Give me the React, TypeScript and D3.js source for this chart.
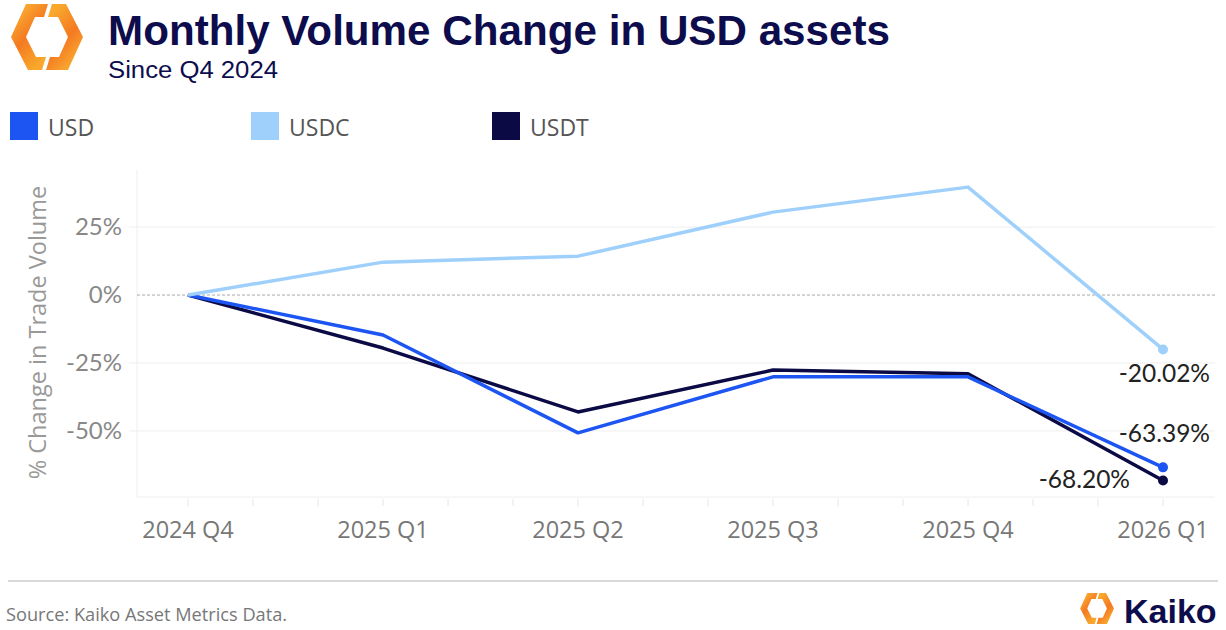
import React from 'react';
import * as d3 from 'd3';

const quarters = ['2024 Q4', '2025 Q1', '2025 Q2', '2025 Q3', '2025 Q4', '2026 Q1'];
const usd = [0, -14.7, -50.7, -30.1, -30.1, -63.39];
const usdc = [0, 12.1, 14.3, 30.5, 39.7, -20.02];
const usdt = [0, -19.5, -43.0, -27.6, -29.0, -68.2];
const yTicks = [25, 0, -25, -50];

const seriesNames = ['USD', 'USDC', 'USDT'];
const seriesColors: Record<string, string> = {
   USD: '#1c55f2',
   USDC: '#9fd0fb',
   USDT: '#0b0a45',
};

const W = 1226;
const H = 630;

const plot = { left: 137, right: 1215, top: 170, bottom: 497 };

// two rotated halves of the Kaiko hexagon mark
const Logo: React.FC<{ x: number; y: number; s: number; id: string }> = ({ x, y, s, id }) => {
   const piece = 'M48,4 L26,4 L11,37 L28,70 L42,70 L46,57 L36,57 L26,37 L35,17 L44,17 Z';
   return (
      <g transform={`translate(${x},${y}) scale(${s})`}>
         <defs>
            <linearGradient id={`${id}-g`} x1="0" y1="0" x2="0.6" y2="1">
               <stop offset="0%" stopColor="#fcc037" />
               <stop offset="55%" stopColor="#f47a22" />
               <stop offset="100%" stopColor="#f9a82c" />
            </linearGradient>
         </defs>
         <path d={piece} fill={`url(#${id}-g)`} />
         <path d={piece} fill={`url(#${id}-g)`} transform="rotate(180 47 37)" />
      </g>
   );
};

const App: React.FC = () => {
   const x = d3.scalePoint<string>().domain(quarters).range([188, 1163]);
   const y = d3.scaleLinear().domain([-74.3, 46]).range([plot.bottom, plot.top]);

   const step = x.step();
   const monthTicks: number[] = [];
   quarters.forEach((q, i) => {
      const px = x(q) as number;
      monthTicks.push(px);
      if (i < quarters.length - 1) {
         monthTicks.push(px + step / 3, px + (2 * step) / 3);
      }
   });

   const line = d3
      .line<number>()
      .x((_, i) => x(quarters[i]) as number)
      .y((d) => y(d));

   const data: Record<string, number[]> = { USD: usd, USDC: usdc, USDT: usdt };
   const drawOrder = ['USDT', 'USD', 'USDC'];
   const last = quarters.length - 1;
   const lastX = x(quarters[last]) as number;

   const endLabels = [
      { name: 'USDC', dx: 47, dy: 33 },
      { name: 'USD', dx: 47, dy: -25 },
      { name: 'USDT', dx: -33, dy: 8 },
   ];

   const uiFont = '"Open Sans", "Noto Sans", sans-serif';
   const numFont = 'Lato, "Open Sans", sans-serif';

   return (
      <svg width={W} height={H} style={{ position: 'absolute', left: 0, top: 0, background: '#fff' }}>
         <rect width={W} height={H} fill="#fff" />
         <Logo x={0} y={0} s={1} id="big" />
         <text x={108} y={45} fontFamily='"Liberation Sans", Arial, sans-serif' fontWeight={700}
            fontSize={42} fill="#0d0c4d" textLength={782} lengthAdjust="spacingAndGlyphs">
            Monthly Volume Change in USD assets
         </text>
         <text x={108} y={78} fontFamily='"Liberation Sans", Arial, sans-serif' fontSize={23} fill="#0d0c4d"
            textLength={170} lengthAdjust="spacingAndGlyphs">
            Since Q4 2024
         </text>

         {/* legend */}
         {seriesNames.map((name, i) => (
            <g key={name} transform={`translate(${10 + i * 241},112)`}>
               <rect width={28} height={28} fill={seriesColors[name]} />
               <text x={38} y={24} fontFamily={uiFont} fontSize={23} fill="#555">
                  {name}
               </text>
            </g>
         ))}

         {/* frame */}
         <line x1={plot.left} x2={plot.left} y1={plot.top} y2={plot.bottom} stroke="#eeeeee" />
         <line x1={plot.left} x2={plot.right} y1={plot.bottom} y2={plot.bottom} stroke="#eeeeee" />
         {monthTicks.map((t, i) => (
            <line key={i} x1={t} x2={t} y1={plot.bottom + 2} y2={plot.bottom + 9} stroke="#e6e6e6" />
         ))}

         {/* y grid & ticks */}
         {yTicks.map((t) => (
            <g key={t}>
               {t === 0 ? (
                  <line x1={plot.left} x2={plot.right} y1={y(t)} y2={y(t)} stroke="#aaaaaa"
                     strokeDasharray="3,2" />
               ) : (
                  <line x1={plot.left - 8} x2={plot.right} y1={y(t)} y2={y(t)} stroke="#eeeeee" />
               )}
               <text x={122} y={y(t) + 8} textAnchor="end" fontFamily={numFont} fontSize={24} fill="#888">
                  {`${t}%`}
               </text>
            </g>
         ))}
         <text transform={`translate(46,${(plot.top + plot.bottom) / 2 - 1}) rotate(-90)`} textAnchor="middle"
            fontFamily={uiFont} fontSize={23.5} fill="#999">
            % Change in Trade Volume
         </text>

         {/* x labels */}
         {quarters.map((q) => (
            <text key={q} x={x(q)} y={538} textAnchor="middle" fontFamily={uiFont} fontSize={23.5} fill="#777">
               {q}
            </text>
         ))}

         {/* lines */}
         {drawOrder.map((name) => (
            <g key={name}>
               <path d={line(data[name]) ?? ''} fill="none" stroke={seriesColors[name]} strokeWidth={3.5}
                  strokeLinejoin="round" />
               <circle cx={lastX} cy={y(data[name][last])} r={5} fill={seriesColors[name]} />
            </g>
         ))}

         {/* end labels */}
         {endLabels.map((l) => (
            <text key={l.name} x={lastX + l.dx} y={y(data[l.name][last]) + l.dy} textAnchor="end"
               fontFamily={numFont} fontSize={24.5} fill="#222">
               {`${data[l.name][last].toFixed(2)}%`}
            </text>
         ))}

         {/* footer */}
         <line x1={8} x2={1218} y1={581} y2={581} stroke="#cccccc" strokeWidth={1.5} />
         <text x={6} y={621} fontFamily={uiFont} fontSize={18.2} fill="#777">
            Source: Kaiko Asset Metrics Data.
         </text>
         <Logo x={1075} y={591} s={0.47} id="small" />
         <text x={1124} y={623} fontFamily='"Liberation Sans", Arial, sans-serif' fontWeight={700}
            fontSize={34} fill="#0d0c4d">
            Kaiko
         </text>
      </svg>
   );
};

export default App;
